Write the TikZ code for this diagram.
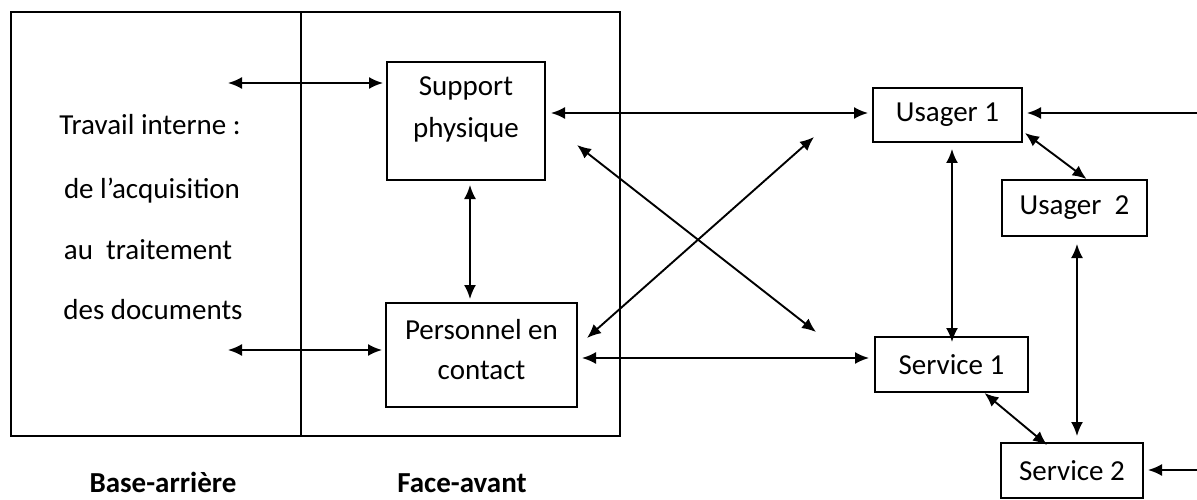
\documentclass[tikz,border=0pt]{standalone}
\usepackage{fontspec}
\setmainfont{Carlito}
\usetikzlibrary{arrows.meta}
\begin{document}
\begin{tikzpicture}[x=1pt,y=1pt,
  lw/.style={line width=2pt},
  dbl/.style={line width=1.9pt,{Latex[length=14pt,width=12pt]}-{Latex[length=14pt,width=12pt]}},
  sgl/.style={line width=1.9pt,-{Latex[length=14pt,width=12pt]}},
  box/.style={draw,line width=2pt,inner sep=0pt,align=center,font=\fontsize{29}{34}\selectfont},
  txt/.style={font=\fontsize{29}{34}\selectfont},
  lbl/.style={anchor=base,inner sep=0pt,font=\fontsize{29}{34}\selectfont\bfseries}]
\useasboundingbox (0,0) rectangle (1197,-500);
% outer frame
\draw[lw] (11,-12) rectangle (620,-436);
\draw[lw] (301,-12) -- (301,-436);
% left texts
\node[txt] (t1) at (150,-125) {Travail interne :};
\node[txt] (t2) at (152,-191) {de l’acquisition};
\node[txt] (t3) at (148,-250) {au\ \ traitement};
\node[txt] (t4) at (153,-310) {des documents};
% boxes
\node[box,minimum width=158pt,minimum height=118pt] (sup) at (466,-121) {\raisebox{5pt}[0pt][0pt]{\begin{tabular}{@{}c@{}}Support\\[8pt] physique\end{tabular}}};
\node[box,minimum width=191pt,minimum height=104pt] (per) at (481.5,-355) {\raisebox{-4pt}[0pt][0pt]{\begin{tabular}{@{}c@{}}Personnel en\\[6pt] contact\end{tabular}}};
\node[box,minimum width=149pt,minimum height=54pt] (u1) at (947.5,-115) {Usager 1};
\node[box,minimum width=145pt,minimum height=56pt] (u2) at (1074.5,-208) {Usager\ \ 2};
\node[box,minimum width=153pt,minimum height=55pt] (s1) at (951.5,-364.5) {Service 1};
\node[box,minimum width=142pt,minimum height=55pt] (s2) at (1072,-470.5) {Service 2};
% labels
\node[lbl] (b1) at (163,-492) {Base-arrière};
\node[lbl] (b2) at (462,-492) {Face-avant};
% free-end coordinates
\coordinate (la) at (228,-83);
\coordinate (lb) at (228,-350);
\coordinate (ra) at (1197,-113);
\coordinate (rb) at (1197,-470);
\coordinate (pm) at (0,-358);
\coordinate (vx) at (470,0);
\coordinate (x1) at (816,-332);
\coordinate (x2) at (814,-137);
% arrows
\draw[dbl] (la) -- ([xshift=-3pt]sup.west |- la);
\draw[dbl] (lb) -- ([xshift=-3pt]per.west |- lb);
\draw[dbl] ([yshift=-4pt]vx |- sup.south) -- ([yshift=3pt]vx |- per.north);
\draw[dbl] ([xshift=5pt]sup.east |- ra) -- ([xshift=-4pt]u1.west |- ra);
\draw[dbl] ([xshift=4pt]per.east |- pm) -- ([xshift=-5pt]s1.west |- pm);
\draw[dbl] ([shift={(31pt,-24pt)}]sup.east) -- (x1);
\draw[dbl] ([shift={(9pt,17pt)}]per.east) -- (x2);
\draw[sgl] (ra) -- ([xshift=4pt]u1.east |- ra);
\draw[sgl] (rb) -- ([xshift=4pt]s2.east |- rb);
\draw[dbl] ([shift={(4.5pt,-6pt)}]u1.south) -- ([shift={(4.5pt,-6pt)}]u1.south |- s1.north);
\draw[dbl] ([shift={(2.5pt,-7pt)}]u2.south) -- ([shift={(2.5pt,6pt)}]u2.south |- s2.north);
\draw[dbl] ([shift={(2pt,-18pt)}]u1.east) -- ([shift={(12pt,0pt)}]u2.north);
\draw[dbl] ([shift={(33pt,0pt)}]s1.south) -- ([shift={(-25pt,-3pt)}]s2.north);
\end{tikzpicture}
\end{document}
